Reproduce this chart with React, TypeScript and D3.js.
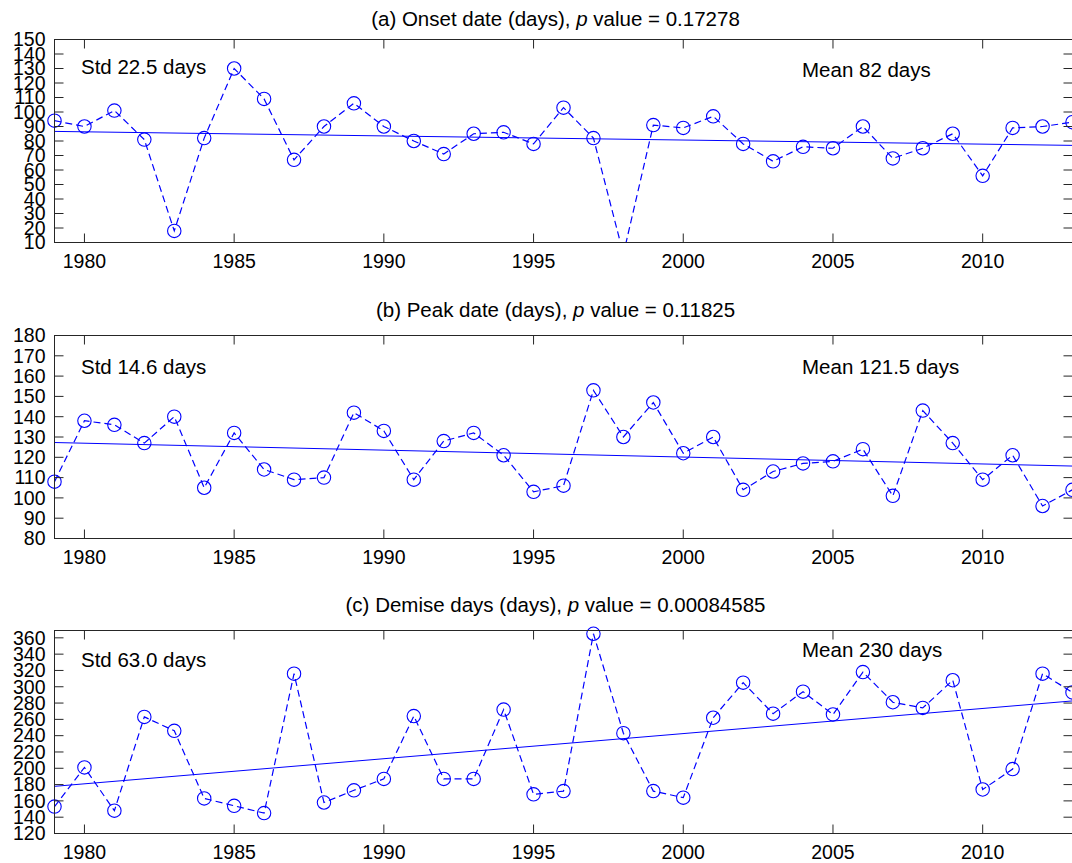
import React from "react";
import * as d3 from "d3";

// yearly series
const years = [
  1979, 1980, 1981, 1982, 1983, 1984, 1985, 1986, 1987, 1988, 1989, 1990,
  1991, 1992, 1993, 1994, 1995, 1996, 1997, 1998, 1999, 2000, 2001, 2002,
  2003, 2004, 2005, 2006, 2007, 2008, 2009, 2010, 2011, 2012, 2013,
];
const onsetDays = [
  94, 90, 101, 81, 18, 82, 130, 109, 67, 90, 106, 90, 80, 71, 85, 86, 78, 103,
  82, 2, 91, 89, 97, 78, 66, 76, 75, 90, 68, 75, 85, 56, 89, 90, 93,
];
const peakDays = [
  108, 138, 136, 127, 140, 105, 132, 114, 109, 110, 142, 133, 109, 128, 132,
  121, 103, 106, 153, 130, 147, 122, 130, 104, 113, 117, 118, 124, 101, 143,
  127, 109, 121, 96, 104,
];
const demiseDays = [
  153, 201, 148, 263, 246, 163, 154, 145, 316, 158, 173, 187, 264, 187, 187,
  272, 168, 172, 365, 243, 172, 164, 262, 305, 267, 294, 266, 318, 281, 274,
  308, 174, 199, 316, 293,
];

const yearTicks = [1980, 1985, 1990, 1995, 2000, 2005, 2010];
const onsetTicks = [10, 20, 30, 40, 50, 60, 70, 80, 90, 100, 110, 120, 130, 140, 150];
const peakTicks = [80, 90, 100, 110, 120, 130, 140, 150, 160, 170, 180];
const demiseTicks = [120, 140, 160, 180, 200, 220, 240, 260, 280, 300, 320, 340, 360];

const panelTitles = [
  "(a) Onset date (days), ",
  "(b) Peak date (days), ",
  "(c) Demise days (days), ",
];
const pValues = ["0.17278", "0.11825", "0.00084585"];
const stdLabels = ["Std 22.5 days", "Std 14.6 days", "Std 63.0 days"];
const meanLabels = ["Mean 82 days", "Mean 121.5 days", "Mean 230 days"];

const W = 1072;
const H = 863;
const X0 = 54.5;
const X1 = 1072.5;
const PH = 203;
const TICK = 9;
const BLUE = "#0000ff";
const FONT = "'Liberation Sans', Arial, Helvetica, sans-serif";

function Panel({ id, top, values, domain, ticks, title, p, std, mean, titleY, stdY, meanY }) {
  const x = d3.scaleLinear().domain([1979, 2013]).range([X0, X1]);
  const y = d3.scaleLinear().domain(domain).range([top + PH, top]);

  const pts = years.map((yr, i) => [yr, values[i]]);
  const line = d3
    .line()
    .x((d) => x(d[0]))
    .y((d) => y(d[1]));

  // least squares trend
  const mx = d3.mean(years);
  const my = d3.mean(values);
  const slope =
    d3.sum(years.map((yr, i) => (yr - mx) * (values[i] - my))) /
    d3.sum(years.map((yr) => (yr - mx) * (yr - mx)));
  const fit = (yr) => my + slope * (yr - mx);
  const trend = [
    [1979, fit(1979)],
    [2013, fit(2013)],
  ];

  const bottom = top + PH;

  return (
    <g fontFamily={FONT} fontSize={19.5} fill="#000">
      <defs>
        <clipPath id={id}>
          <rect x={X0} y={top} width={X1 - X0} height={PH} />
        </clipPath>
      </defs>

      <g clipPath={`url(#${id})`}>
        <path d={line(trend)} fill="none" stroke={BLUE} strokeWidth={1} />
        <path
          d={line(pts)}
          fill="none"
          stroke={BLUE}
          strokeWidth={1.2}
          strokeDasharray="7,4"
        />
      </g>
      {pts
        .filter((d) => d[1] >= domain[0] && d[1] <= domain[1])
        .map((d) => (
          <circle
            key={d[0]}
            cx={x(d[0])}
            cy={y(d[1])}
            r={6.7}
            fill="none"
            stroke={BLUE}
            strokeWidth={1.1}
          />
        ))}

      <rect
        x={X0}
        y={top}
        width={X1 - X0}
        height={PH}
        fill="none"
        stroke="#262626"
        strokeWidth={1}
      />

      {yearTicks.map((t) => (
        <g key={t}>
          <line x1={x(t)} x2={x(t)} y1={bottom} y2={bottom - TICK} stroke="#262626" />
          <line x1={x(t)} x2={x(t)} y1={top} y2={top + TICK} stroke="#262626" />
          <text x={x(t)} y={bottom + 25} textAnchor="middle">
            {t}
          </text>
        </g>
      ))}

      {ticks.map((t) => (
        <g key={t}>
          <line x1={X0} x2={X0 + TICK} y1={y(t)} y2={y(t)} stroke="#262626" />
          <line x1={X1} x2={X1 - TICK} y1={y(t)} y2={y(t)} stroke="#262626" />
          <text x={X0 - 9} y={y(t)} dy="0.35em" textAnchor="end">
            {t}
          </text>
        </g>
      ))}

      <g fontSize={20.5}>
        <text x={(X0 + X1) / 2 - 8} y={titleY} textAnchor="middle">
          {title}
          <tspan fontStyle="italic">p</tspan>
          {" value = " + p}
        </text>
        <text x={81} y={stdY}>
          {std}
        </text>
        <text x={802} y={meanY}>
          {mean}
        </text>
      </g>
    </g>
  );
}

export default function App() {
  return (
    <svg
      width={W}
      height={H}
      style={{ position: "absolute", left: 0, top: 0, background: "#fff" }}
    >
      <rect width={W} height={H} fill="#fff" />
      <Panel
        id="clipA"
        top={39.5}
        values={onsetDays}
        domain={[10, 150]}
        ticks={onsetTicks}
        title={panelTitles[0]}
        p={pValues[0]}
        std={stdLabels[0]}
        mean={meanLabels[0]}
        titleY={26}
        stdY={74}
        meanY={76.5}
      />
      <Panel
        id="clipB"
        top={335.5}
        values={peakDays}
        domain={[80, 180]}
        ticks={peakTicks}
        title={panelTitles[1]}
        p={pValues[1]}
        std={stdLabels[1]}
        mean={meanLabels[1]}
        titleY={316.5}
        stdY={374}
        meanY={374}
      />
      <Panel
        id="clipC"
        top={630.5}
        values={demiseDays}
        domain={[120, 369]}
        ticks={demiseTicks}
        title={panelTitles[2]}
        p={pValues[2]}
        std={stdLabels[2]}
        mean={meanLabels[2]}
        titleY={611.5}
        stdY={667}
        meanY={657}
      />
    </svg>
  );
}
